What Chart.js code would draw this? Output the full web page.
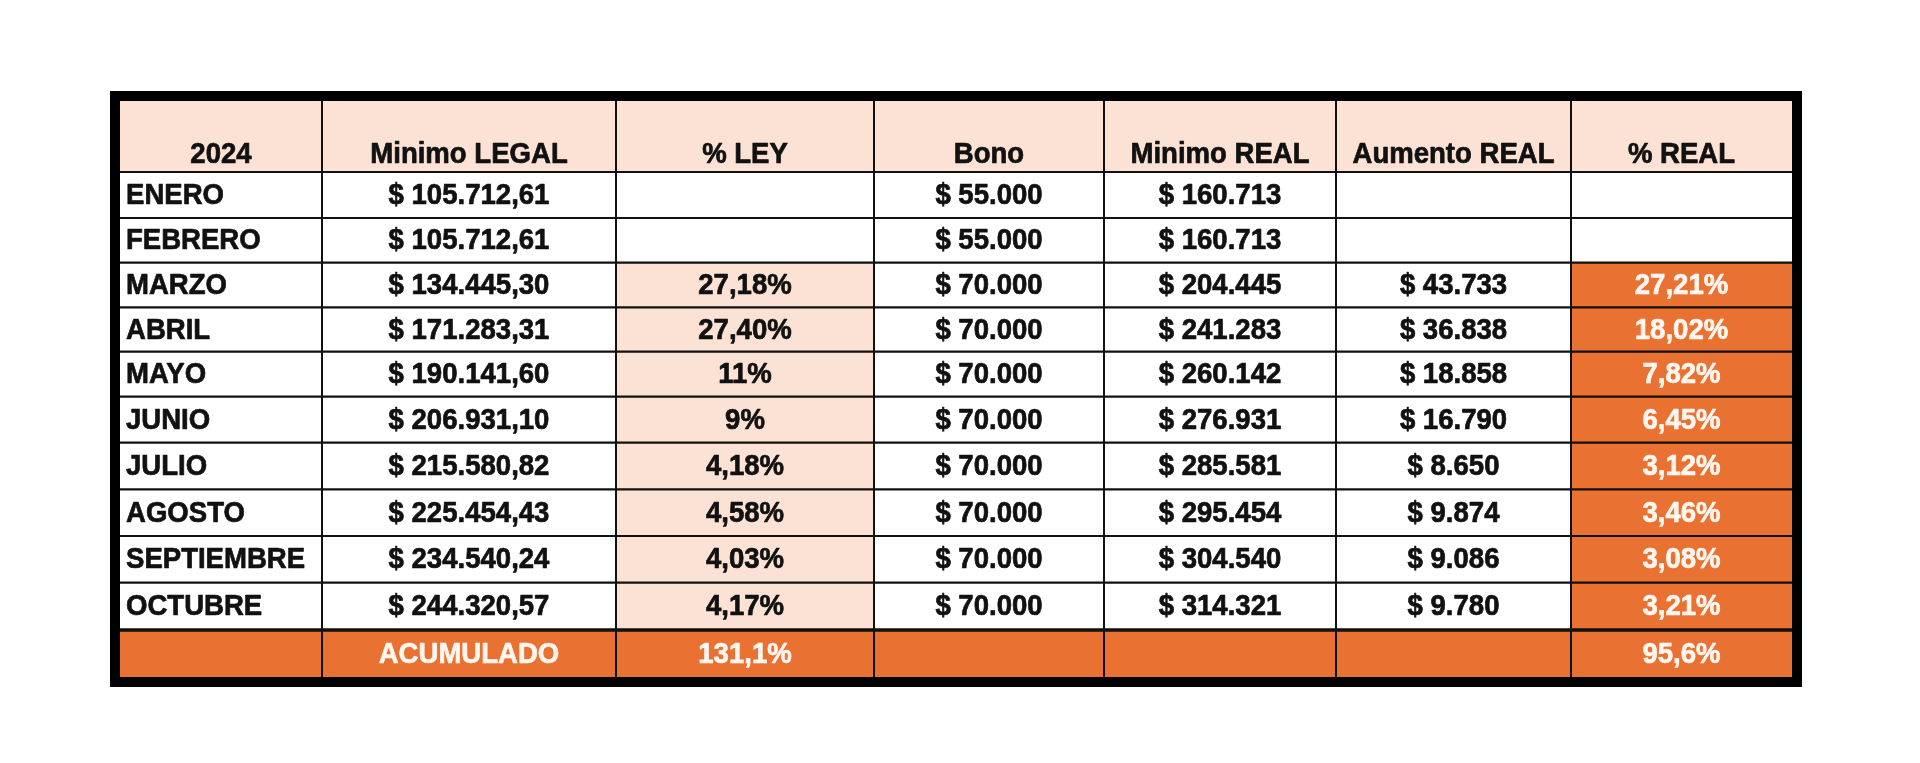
<!DOCTYPE html>
<html>
<head>
<meta charset="utf-8">
<script src="https://cdn.jsdelivr.net/npm/chart.js@4.4.1/dist/chart.umd.min.js"></script>
<style>
  html, body { margin: 0; padding: 0; background: #ffffff; }
  #wrap { width: 1920px; height: 763px; }
</style>
</head>
<body>
<div id="wrap"><canvas id="chart" width="1920" height="763"></canvas></div>
<script>
// ---- data ----
const headers = ["2024", "Minimo LEGAL", "% LEY", "Bono", "Minimo REAL", "Aumento REAL", "% REAL"];
const months = ["ENERO", "FEBRERO", "MARZO", "ABRIL", "MAYO", "JUNIO", "JULIO", "AGOSTO", "SEPTIEMBRE", "OCTUBRE"];
const minimoLegal = [105712.61, 105712.61, 134445.30, 171283.31, 190141.60, 206931.10, 215580.82, 225454.43, 234540.24, 244320.57];
const pctLey = [null, null, 27.18, 27.40, 11, 9, 4.18, 4.58, 4.03, 4.17];
const bono = [55000, 55000, 70000, 70000, 70000, 70000, 70000, 70000, 70000, 70000];
const minimoReal = [160713, 160713, 204445, 241283, 260142, 276931, 285581, 295454, 304540, 314321];
const aumentoReal = [null, null, 43733, 36838, 18858, 16790, 8650, 9874, 9086, 9780];
const pctReal = [null, null, 27.21, 18.02, 7.82, 6.45, 3.12, 3.46, 3.08, 3.21];
const totalLabel = "ACUMULADO";
const totalLey = 131.1;
const totalReal = 95.6;

// ---- layout (column widths / row heights in table units) ----
const colWidths = [202, 294, 258, 230, 232, 235, 221];
const rowHeights = [71, 46, 44.7, 44.6, 44.4, 45, 46, 46.6, 46.7, 46.7, 47.3, 47];

const peach = "#fbe2d5";
const orange = "#e97132";
const ink = "#111111";
const paleText = "#fff6f0";

function cum(arr) {
    let out = [0];
    arr.forEach(v => out.push(out[out.length - 1] + v));
    return out;
}
const colEdges = cum(colWidths);
const rowEdges = cum(rowHeights);

function groupDigits(s) {
    return s.replace(/\B(?=(\d{3})+(?!\d))/g, ".");
}
function money(v, dec) {
    if (v === null) return "";
    let parts = v.toFixed(dec).split(".");
    return "$ " + groupDigits(parts[0]) + (parts[1] ? "," + parts[1] : "");
}
function pct(v, dec) {
    if (v === null) return "";
    if (dec === undefined) dec = Number.isInteger(v) ? 0 : 2;
    return v.toFixed(dec).replace(".", ",") + "%";
}

// build the table: each cell = {text, fill, color, align}
function buildCells() {
    let rows = [];
    rows.push(headers.map(h => ({ text: h, fill: peach, color: ink, align: "center", header: true })));
    months.forEach((m, i) => {
        rows.push([
            { text: m, fill: "#ffffff", color: ink, align: "left" },
            { text: money(minimoLegal[i], 2), fill: "#ffffff", color: ink, align: "center" },
            { text: pct(pctLey[i]), fill: pctLey[i] === null ? "#ffffff" : peach, color: ink, align: "center" },
            { text: money(bono[i], 0), fill: "#ffffff", color: ink, align: "center" },
            { text: money(minimoReal[i], 0), fill: "#ffffff", color: ink, align: "center" },
            { text: money(aumentoReal[i], 0), fill: "#ffffff", color: ink, align: "center" },
            { text: pct(pctReal[i]), fill: pctReal[i] === null ? "#ffffff" : orange, color: paleText, align: "center" }
        ]);
    });
    rows.push([
        { text: "", fill: orange },
        { text: totalLabel, fill: orange, color: paleText, align: "center" },
        { text: pct(totalLey, 1), fill: orange, color: paleText, align: "center" },
        { text: "", fill: orange },
        { text: "", fill: orange },
        { text: "", fill: orange },
        { text: pct(totalReal, 1), fill: orange, color: paleText, align: "center" }
    ]);
    return rows;
}
const cells = buildCells();

const tablePlugin = {
    id: "tablePlugin",
    beforeDatasetsDraw(chart) {
        const ctx = chart.ctx;
        const xs = chart.scales.x;
        const ys = chart.scales.y;
        const X = v => xs.getPixelForValue(v);
        const Y = v => ys.getPixelForValue(v);

        ctx.save();
        // fills
        cells.forEach((row, r) => {
            row.forEach((c, k) => {
                ctx.fillStyle = c.fill;
                ctx.fillRect(X(colEdges[k]), Y(rowEdges[r]), X(colEdges[k + 1]) - X(colEdges[k]), Y(rowEdges[r + 1]) - Y(rowEdges[r]));
            });
        });

        // grid lines
        ctx.strokeStyle = ink;
        for (let k = 1; k < colEdges.length - 1; k++) {
            ctx.lineWidth = 2;
            ctx.beginPath();
            ctx.moveTo(X(colEdges[k]), Y(0));
            ctx.lineTo(X(colEdges[k]), Y(rowEdges[rowEdges.length - 1]));
            ctx.stroke();
        }
        for (let r = 1; r < rowEdges.length - 1; r++) {
            ctx.lineWidth = r === rowEdges.length - 2 ? 3.5 : 2.2;
            ctx.beginPath();
            ctx.moveTo(X(0), Y(rowEdges[r]));
            ctx.lineTo(X(colEdges[colEdges.length - 1]), Y(rowEdges[r]));
            ctx.stroke();
        }

        // outer frame
        const a = chart.chartArea;
        ctx.lineWidth = 10;
        ctx.strokeStyle = "#000000";
        ctx.strokeRect(a.left - 5, a.top - 5, a.right - a.left + 10, a.bottom - a.top + 10);

        // texts
        ctx.font = "bold 29px 'Liberation Sans', Arial, sans-serif";
        ctx.textBaseline = "middle";
        ctx.lineJoin = "round";
        const squeeze = 0.95;
        cells.forEach((row, r) => {
            row.forEach((c, k) => {
                if (!c.text) return;
                const x0 = X(colEdges[k]), x1 = X(colEdges[k + 1]);
                const y0 = Y(rowEdges[r]), y1 = Y(rowEdges[r + 1]);
                let tx = c.align === "left" ? x0 + 6 : (x0 + x1) / 2;
                let ty = c.header ? y1 - 17 : (y0 + y1) / 2 + 1;
                ctx.save();
                ctx.translate(tx, ty);
                ctx.scale(squeeze, 1);
                ctx.fillStyle = c.color;
                ctx.strokeStyle = c.color;
                ctx.lineWidth = 0.7;
                ctx.textAlign = c.align === "left" ? "left" : "center";
                ctx.fillText(c.text, 0, 0);
                ctx.strokeText(c.text, 0, 0);
                ctx.restore();
            });
        });
        ctx.restore();
    }
};

new Chart(document.getElementById("chart"), {
    type: "scatter",
    data: { datasets: [] },
    options: {
        responsive: false,
        animation: false,
        layout: { padding: { left: 120, top: 101, right: 128, bottom: 86 } },
        plugins: { legend: { display: false }, tooltip: { enabled: false } },
        scales: {
            x: { type: "linear", display: false, min: 0, max: colEdges[colEdges.length - 1] },
            y: { type: "linear", display: false, reverse: true, min: 0, max: rowEdges[rowEdges.length - 1] }
        }
    },
    plugins: [tablePlugin]
});
</script>
</body>
</html>
